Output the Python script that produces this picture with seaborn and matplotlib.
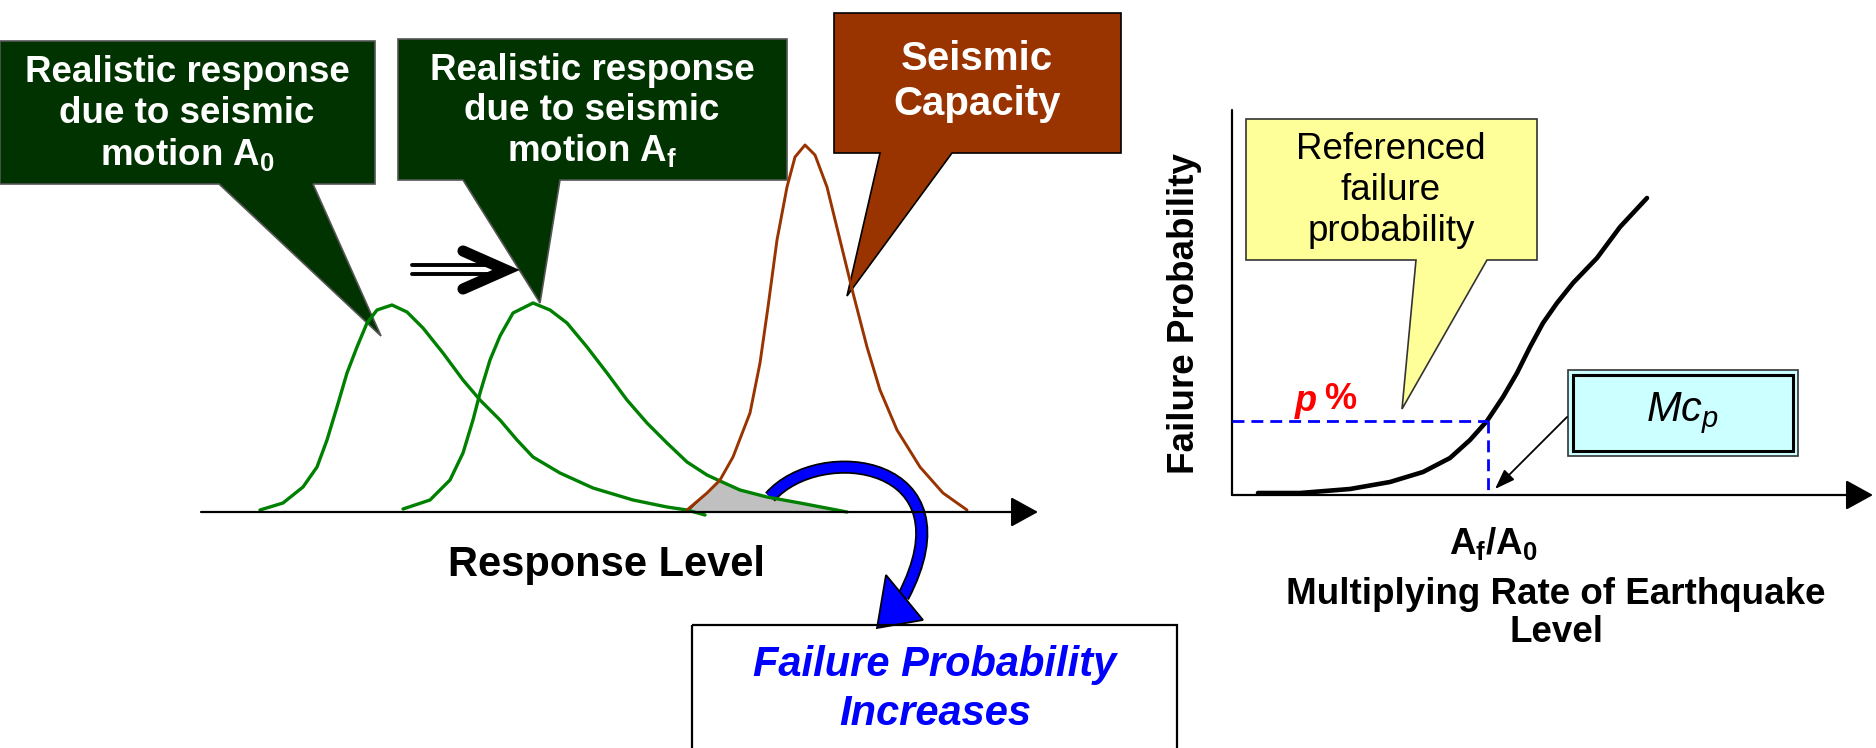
import numpy as np
import matplotlib.pyplot as plt
import seaborn as sns
from matplotlib.patches import Polygon, Rectangle, PathPatch
from matplotlib.path import Path
import matplotlib.patheffects as pe

# curve points (pixel coords, y grows downwards)
a0_x = [260, 283, 303, 317, 327, 337, 347, 357, 367, 377, 392, 407, 423, 443, 463, 480, 500,
        517, 533, 560, 593, 633, 667, 687, 705]
a0_y = [510, 503, 487, 467, 440, 407, 373, 347, 323, 310, 305, 312, 328, 353, 380, 400, 420,
        440, 457, 473, 488, 500, 507, 510, 515]
af_x = [403, 430, 450, 463, 473, 480, 490, 500, 513, 533, 550, 567, 587, 607, 627, 647, 667,
        687, 707, 720, 740, 767, 800, 847]
af_y = [509, 500, 480, 453, 420, 393, 360, 336, 313, 303, 310, 323, 347, 373, 400, 423, 443,
        462, 475, 481, 490, 497, 503, 512]
cap_x = [687, 707, 720, 733, 750, 760, 768, 777, 787, 795, 805, 815, 827, 840, 853, 867, 880,
         897, 920, 943, 967]
cap_y = [510, 493, 480, 457, 413, 363, 307, 240, 187, 157, 145, 155, 187, 240, 293, 347, 390,
         430, 467, 493, 510]
overlap_x = [687, 707, 720, 740, 767, 800, 847]
overlap_y = [512, 493, 481, 490, 497, 503, 512]

# failure probability vs multiplying rate
frag_x = [1258, 1300, 1350, 1390, 1423, 1450, 1470, 1487, 1503, 1517, 1530, 1543, 1557, 1573,
          1597, 1620, 1647]
frag_y = [493, 493, 489, 482, 472, 458, 440, 421, 397, 373, 347, 323, 303, 283, 258, 227, 198]
p_level = 421
mc_x = 1488

box_a0 = ["Realistic response", "due to seismic", r"motion $\mathbf{A_0}$"]
box_af = ["Realistic response", "due to seismic", r"motion $\mathbf{A_f}$"]
box_cap = ["Seismic", "Capacity"]
box_ref = ["Referenced", "failure", "probability"]

sns.set_theme(style="white")
plt.rcParams['font.family'] = ['Liberation Sans', 'DejaVu Sans']
plt.rcParams['text.color'] = 'black'
plt.rcParams['mathtext.fontset'] = 'custom'
plt.rcParams['mathtext.rm'] = 'Liberation Sans'
plt.rcParams['mathtext.bf'] = 'Liberation Sans:bold'
plt.rcParams['mathtext.it'] = 'Liberation Sans:italic'

fig = plt.figure(figsize=(18.76, 7.48), dpi=100)
ax = fig.add_axes([0, 0, 1, 1])
ax.set_xlim(0, 1876)
ax.set_ylim(748, 0)
ax.axis('off')

# ---- left panel ----
ax.add_patch(Polygon(list(zip(overlap_x, overlap_y)), closed=True, fc='#c0c0c0', ec='black', lw=0.8))
sns.lineplot(x=a0_x, y=a0_y, sort=False, color='#008000', lw=2.4, ax=ax)
sns.lineplot(x=af_x, y=af_y, sort=False, color='#008000', lw=2.4, ax=ax)
sns.lineplot(x=cap_x, y=cap_y, sort=False, color='#993300', lw=2.1, ax=ax)

arr = dict(arrowstyle='-|>,head_length=1.0,head_width=0.55', color='black', lw=1.6,
           mutation_scale=17, shrinkA=0, shrinkB=0)
ax.annotate('', xy=(1038, 512), xytext=(201, 512), arrowprops=arr)

# callouts
green = '#003300'
ax.add_patch(Polygon([(0, 41), (375, 41), (375, 184), (313, 184), (381, 336), (219, 184), (0, 184)],
                     closed=True, fc=green, ec='#555555', lw=1.2))
ax.add_patch(Polygon([(398, 39), (787, 39), (787, 180), (560, 180), (540, 303), (463, 180), (398, 180)],
                     closed=True, fc=green, ec='#555555', lw=1.2))
ax.add_patch(Polygon([(834, 13), (1121, 13), (1121, 153), (952, 153), (847, 296), (880, 153), (834, 153)],
                     closed=True, fc='#993300', ec='black', lw=1.2))
for i, s in enumerate(box_a0):
    ax.text(187, 72 + 41 * i, s, color='white', fontsize=26.5, fontweight='bold', ha='center', va='center')
for i, s in enumerate(box_af):
    ax.text(592, 70 + 40 * i, s, color='white', fontsize=26.5, fontweight='bold', ha='center', va='center')
for i, s in enumerate(box_cap):
    ax.text(977, 59 + 45 * i, s, color='white', fontsize=29, fontweight='bold', ha='center', va='center')

# shift arrow
ax.plot([412, 490], [265, 265], color='black', lw=2.8)
ax.plot([412, 490], [273.5, 273.5], color='black', lw=2.8)
ax.plot([463, 506, 463], [251, 270, 289], color='black', lw=8, solid_capstyle='round', solid_joinstyle='miter')

ax.text(607, 565, "Response Level", fontsize=30, fontweight='bold', ha='center', va='center')

# blue curved arrow
body = Path([(770, 497), (820, 440), (975, 460), (903, 597)],
            [Path.MOVETO, Path.CURVE4, Path.CURVE4, Path.CURVE4])
ax.add_patch(PathPatch(body, fill=False, ec='#0000ff', lw=7, capstyle='butt',
                       path_effects=[pe.Stroke(linewidth=9.5, foreground='black'), pe.Normal()]))
ax.add_patch(Polygon([(886, 575), (923, 620), (877, 628)], closed=True, fc='#0000ff', ec='black', lw=1.3))

ax.add_patch(Rectangle((692, 625), 485, 140, fill=False, ec='black', lw=1.6))
ax.text(935, 665, "Failure Probability", color='#0000ff', fontsize=30, fontweight='bold',
        style='italic', ha='center', va='center')
ax.text(935, 714, "Increases", color='#0000ff', fontsize=30, fontweight='bold',
        style='italic', ha='center', va='center')

# ---- right panel ----
ax.plot([1232, 1232], [110, 495], color='black', lw=1.6)
ax.annotate('', xy=(1873, 495), xytext=(1232, 495), arrowprops=arr)
sns.lineplot(x=frag_x, y=frag_y, sort=False, color='black', lw=3.3, ax=ax)
ax.plot([1232, mc_x], [p_level, p_level], color='#0000ff', lw=2, ls=(0, (4.3, 2.5)))
ax.plot([mc_x, mc_x], [p_level, 495], color='#0000ff', lw=2, ls=(0, (4.3, 2.5)))

ax.add_patch(Polygon([(1246, 119), (1537, 119), (1537, 260), (1487, 260), (1402, 409), (1416, 260), (1246, 260)],
                     closed=True, fc='#ffff99', ec='#333333', lw=1.2))
for i, s in enumerate(box_ref):
    ax.text(1391, 149 + 41 * i, s, fontsize=26.5, ha='center', va='center')

ax.text(1306, 401, "p", color='red', fontsize=26, fontweight='bold', style='italic', ha='center', va='center')
ax.text(1340, 399, "%", color='red', fontsize=26, fontweight='bold', ha='center', va='center')

ax.add_patch(Rectangle((1568, 370), 230, 86, fc='#ccffff', ec='#333333', lw=1.2))
ax.add_patch(Rectangle((1573, 375), 220, 76, fill=False, ec='black', lw=2.2))
ax.text(1682, 413, r"$Mc_p$", fontsize=30, ha='center', va='center')
ax.annotate('', xy=(1495, 489), xytext=(1567, 417),
            arrowprops=dict(arrowstyle='-|>,head_length=0.87,head_width=0.31', color='black', lw=1.3,
                            mutation_scale=14, shrinkA=0, shrinkB=0))

ax.text(1185, 313, "Failure Probability", fontsize=26.5, fontweight='bold', rotation=90,
        ha='center', va='center')
ax.text(1493, 543, r"$\mathbf{A_f/A_0}$", fontsize=26.5, ha='center', va='center')
ax.text(1556, 595, "Multiplying Rate of Earthquake", fontsize=26.5, fontweight='bold', ha='center', va='center')
ax.text(1556, 633, "Level", fontsize=26.5, fontweight='bold', ha='center', va='center')

fig.savefig('out.png', dpi=100)
